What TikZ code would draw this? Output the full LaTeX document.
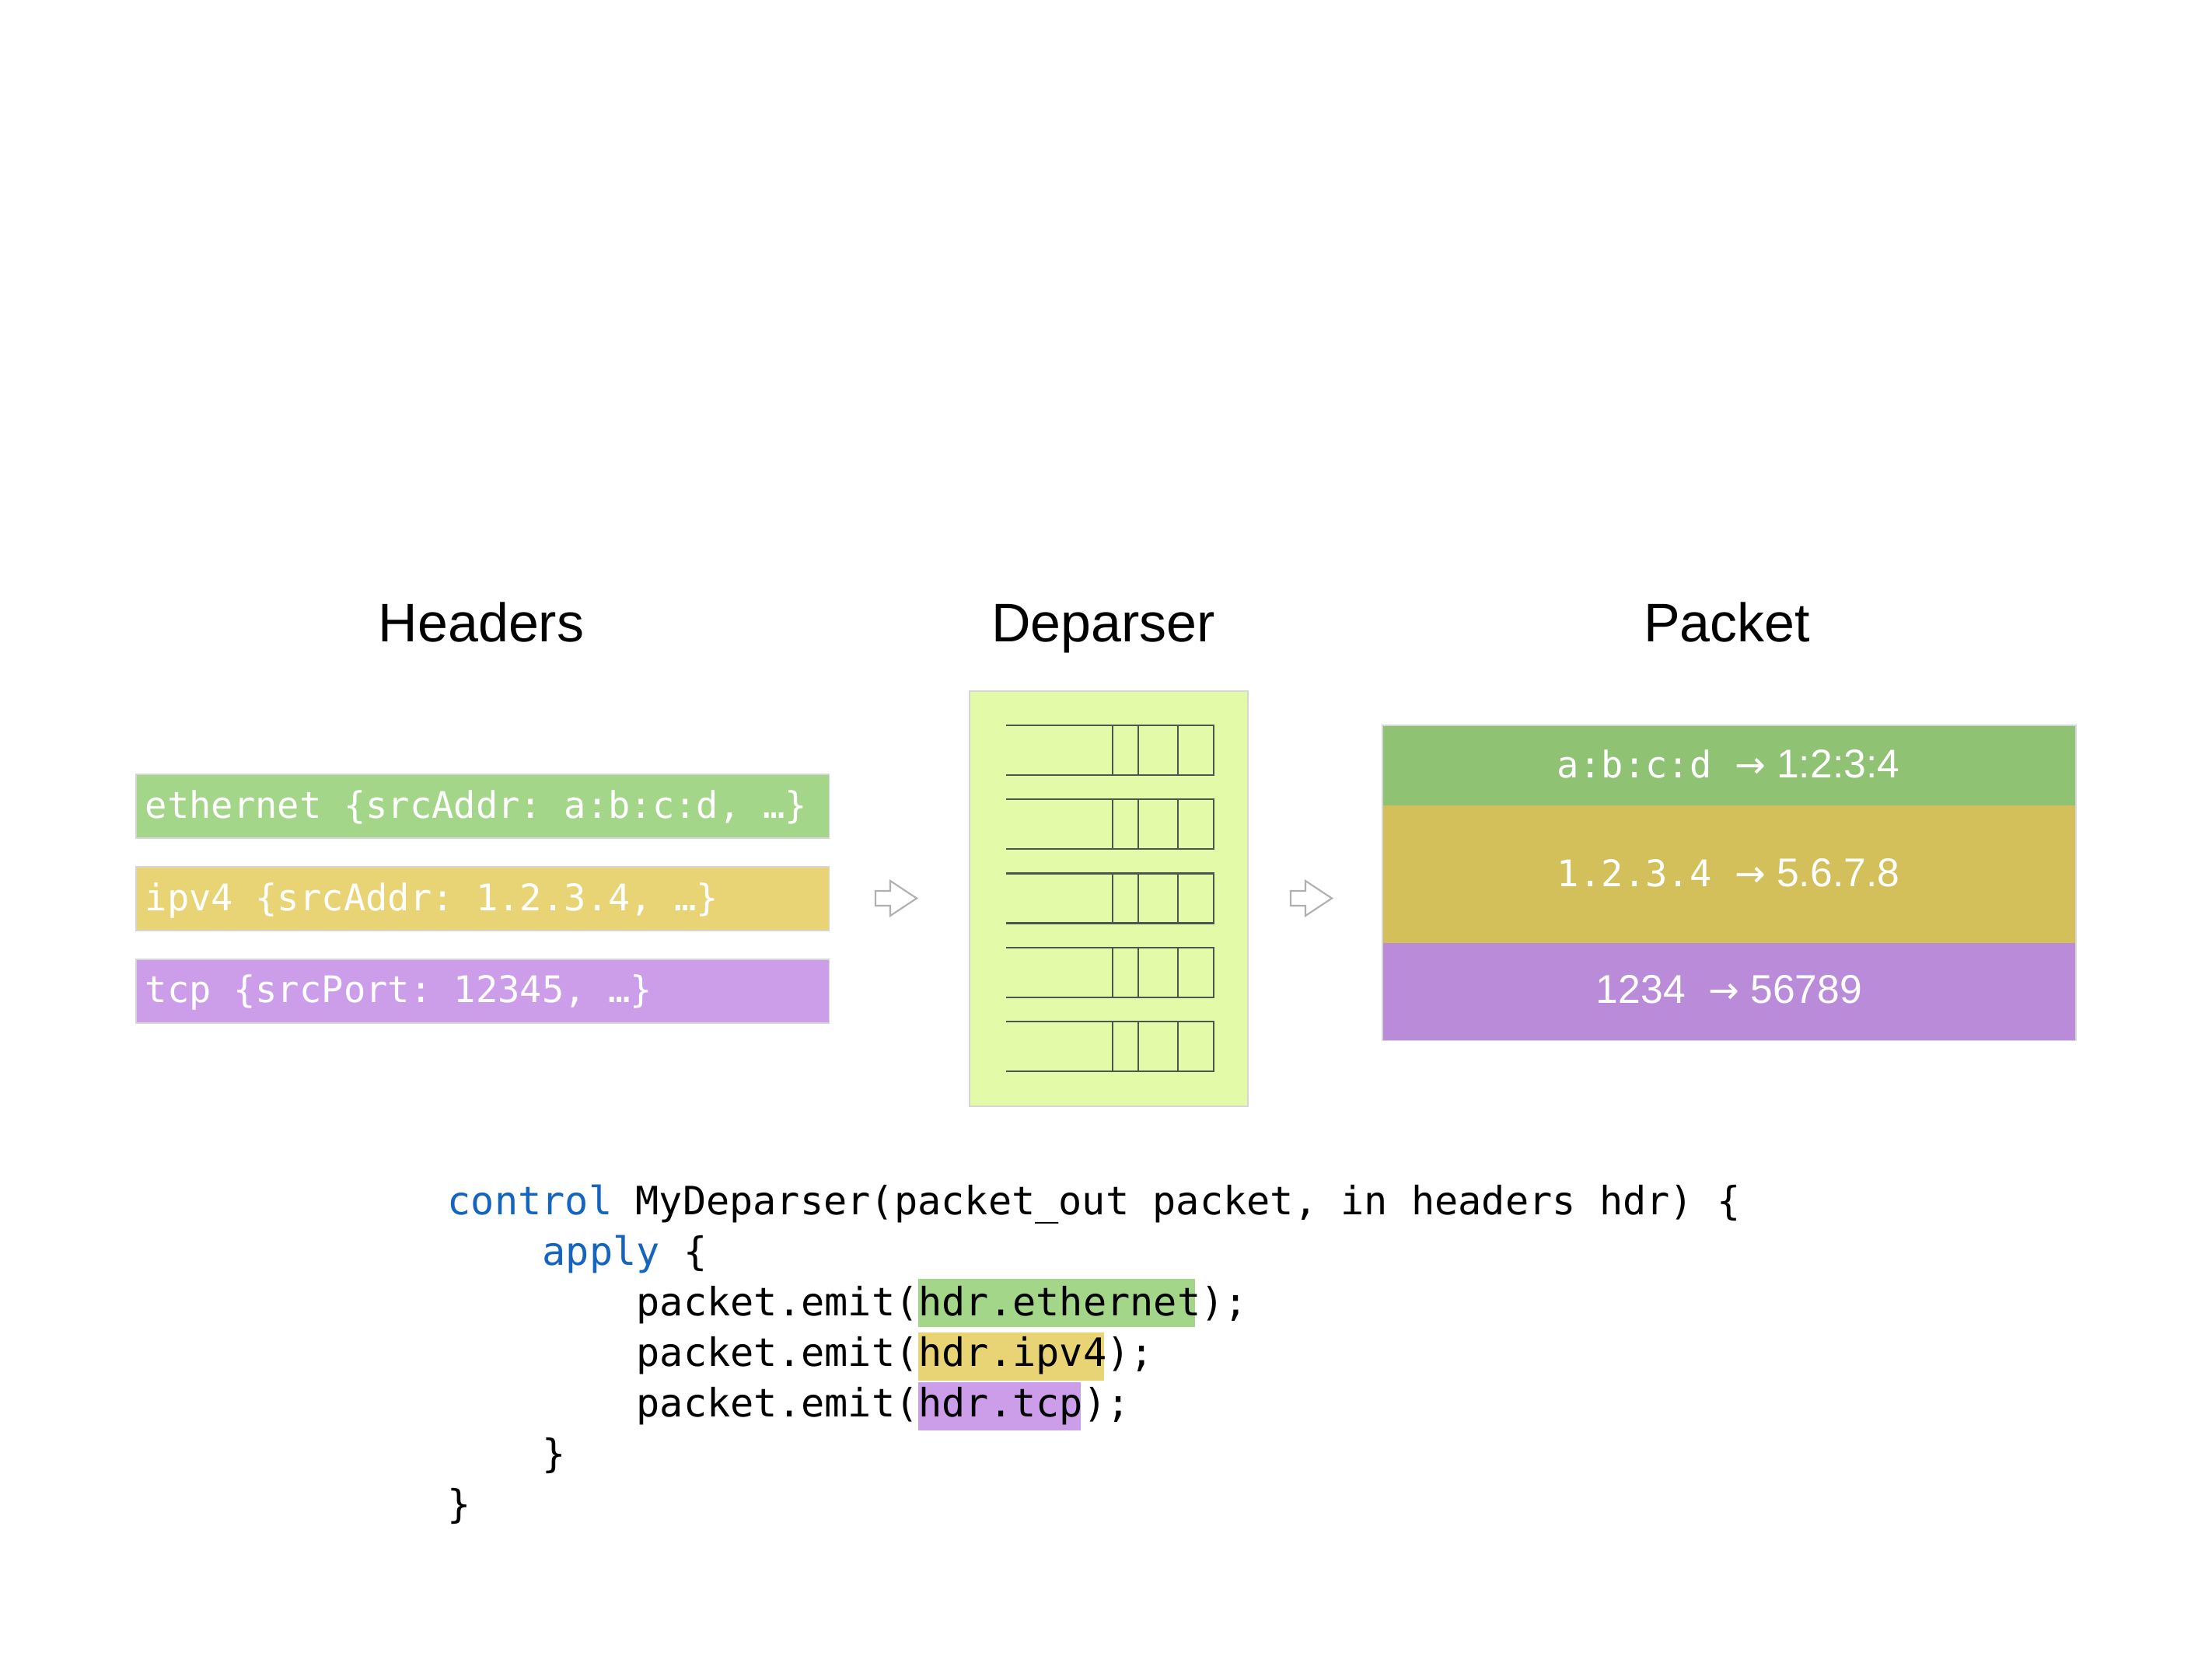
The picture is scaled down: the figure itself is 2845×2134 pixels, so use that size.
\documentclass[tikz,border=0pt]{standalone}
\usepackage{fontspec}
\setmainfont{Liberation Sans}
\newfontfamily\dpMono{DejaVu Sans Mono}
\newfontfamily\dpArr{DejaVu Sans}
\newfontfamily\dpProp{Liberation Sans}
\newcommand\dpHdrF{\dpMono\fontsize{13.4pt}{16pt}\selectfont}
\newcommand\dpCodeF{\dpMono\fontsize{14.28pt}{17pt}\selectfont}
\newcommand\dpTitleF{\fontsize{19.9pt}{24pt}\selectfont}
\newcommand\dpPropF{\dpProp\fontsize{14.68pt}{17pt}\selectfont}
\newcommand\dpArrF{\dpArr\fontsize{13.5pt}{16pt}\selectfont}
\definecolor{hGreen}{HTML}{A4D689}
\definecolor{hYellow}{HTML}{E8D474}
\definecolor{hPurple}{HTML}{CC9EEA}
\definecolor{pGreen}{HTML}{8FC273}
\definecolor{pYellow}{HTML}{D3C05B}
\definecolor{pPurple}{HTML}{B98BD8}
\definecolor{dpFill}{HTML}{E3FBA9}
\definecolor{boxBorder}{HTML}{D6D6D6}
\definecolor{barLine}{HTML}{4A564E}
\definecolor{kwBlue}{HTML}{1565C0}
\definecolor{arrGray}{HTML}{B0B0B0}
\begin{document}
\frenchspacing
\begin{tikzpicture}[x=0.01cm,y=-0.01cm,
  hbox/.style={draw=boxBorder,line width=0.5pt,inner sep=0pt,anchor=north west},
  hdrtext/.style={inner sep=0pt,anchor=base west,text=white,font=\dpHdrF},
  pkttext/.style={inner sep=0pt,anchor=base,text=white},
  title/.style={inner sep=0pt,anchor=base,font=\dpTitleF},
  code/.style={inner sep=0pt,anchor=base west,font=\dpCodeF},
  bar/.style={draw=barLine,line width=0.7pt},
  hollow/.style={draw=arrGray,fill=white,line width=0.6pt,line join=miter}]
\useasboundingbox (0,0) rectangle (2845,2134);

% titles
\node[title] (tHeaders) at (619,825) {Headers};
\node[title] (tDeparser) at (1419,825) {Deparser};
\node[title] (tPacket) at (2221,825) {Packet};

% header boxes
\node[hbox,fill=hGreen,minimum width=8.91cm,minimum height=0.82cm] (ethBox) at (174,995) {};
\node[hbox,fill=hYellow,minimum width=8.91cm,minimum height=0.82cm] (ipBox) at (174,1114) {};
\node[hbox,fill=hPurple,minimum width=8.91cm,minimum height=0.82cm] (tcpBox) at (174,1233) {};
\node[hdrtext] (ethTxt) at (186,1052) {ethernet \{srcAddr: a:b:c:d, …\}};
\node[hdrtext] (ipTxt) at (186,1171) {ipv4 \{srcAddr: 1.2.3.4, …\}};
\node[hdrtext] (tcpTxt) at (186,1289) {tcp \{srcPort: 12345, …\}};

% hollow arrows
\coordinate (a1) at (1126,1155.5);
\coordinate (a2) at (1660,1155.5);
\foreach \c in {a1,a2}{
  \draw[hollow] (\c) ++(0,-9.5) -- ++(19,0) -- ++(0,-13) -- ++(34,22.5) -- ++(-34,22.5) -- ++(0,-13) -- ++(-19,0) -- cycle;
}

% deparser
\node[draw=boxBorder,fill=dpFill,line width=0.6pt,inner sep=0pt,anchor=north west,minimum width=3.58cm,minimum height=5.34cm] (dep) at (1246,888) {};
\foreach \i in {0,...,4}{
  \pgfmathsetmacro{\t}{933+95.25*\i}
  \pgfmathsetmacro{\b}{\t+64}
  \draw[bar] (1294,\t) -- (1561,\t) -- (1561,\b) -- (1294,\b);
  \draw[bar] (1431,\t) -- (1431,\b) (1464,\t) -- (1464,\b) (1515,\t) -- (1515,\b);
}

% packet
\node[fill=pGreen,inner sep=0pt,anchor=north west,minimum width=8.9cm,minimum height=1.02cm] (pEth) at (1778,933) {};
\node[fill=pYellow,inner sep=0pt,anchor=north west,minimum width=8.9cm,minimum height=1.77cm] (pIp) at (1778,1035) {};
\node[fill=pPurple,inner sep=0pt,anchor=north west,minimum width=8.9cm,minimum height=1.25cm] (pTcp) at (1778,1212) {};
\draw[boxBorder,line width=0.4pt] (pEth.north west) rectangle (pTcp.south east);
\node[pkttext] (pEthTxt) at (2223,1000) {{\dpHdrF a:b:c:d}\hspace{8.5pt}{\dpArrF →}\hspace{4pt}{\dpPropF 1:2:3:4}};
\node[pkttext] (pIpTxt) at (2223,1140) {{\dpHdrF 1.2.3.4}\hspace{8.5pt}{\dpArrF →}\hspace{4pt}{\dpPropF 5.6.7.8}};
\node[pkttext] (pTcpTxt) at (2224,1290) {{\dpPropF 1234}\hspace{8.5pt}{\dpArrF →}\hspace{4pt}{\dpPropF 56789}};

% code highlights
\fill[hGreen] (1181,1645) rectangle (1537,1707);
\fill[hYellow] (1181,1714) rectangle (1420,1776);
\fill[hPurple] (1181,1778) rectangle (1390,1840);

% code
\node[code] (c1) at (575,1562) {{\color{kwBlue}control} MyDeparser(packet\_out packet, in headers hdr) \{};
\node[code] (c2) at (697,1627) {{\color{kwBlue}apply} \{};
\node[code] (c3) at (818,1692) {packet.emit(hdr.ethernet);};
\node[code] (c4) at (818,1757) {packet.emit(hdr.ipv4);};
\node[code] (c5) at (818,1822) {packet.emit(hdr.tcp);};
\node[code] (c6) at (697,1887) {\}};
\node[code] (c7) at (575,1952) {\}};
\end{tikzpicture}
\end{document}
